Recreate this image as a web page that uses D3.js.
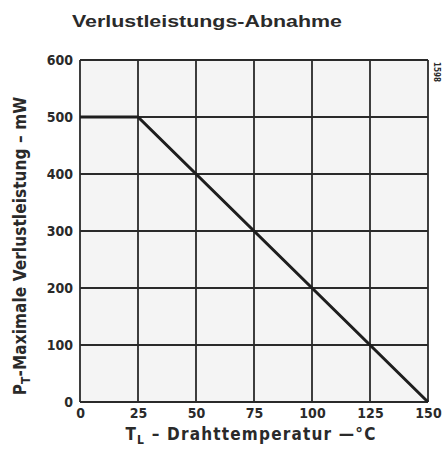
<!DOCTYPE html>
<html><head><meta charset="utf-8">
<script src="https://cdn.jsdelivr.net/npm/d3@7"></script>
<style>
body{margin:0;background:#fff;}
svg{display:block;}
</style></head>
<body><div id="chart"></div>
<script>
const temps = [0, 25, 150];
const power = [500, 500, 0];
const xTicks = [0, 25, 50, 75, 100, 125, 150];
const yTicks = [0, 100, 200, 300, 400, 500, 600];
const title = "Verlustleistungs-Abnahme";

const W = 445, H = 453;
const svg = d3.select("#chart").append("svg").attr("width", W).attr("height", H);
const x = d3.scaleLinear().domain([0,150]).range([80,428]);
const y = d3.scaleLinear().domain([0,600]).range([402,60]);
const ink = "#2a2a2a";
const font = "'DejaVu Sans Condensed','Liberation Sans Narrow',sans-serif";

svg.append("rect").attr("x",x(0)).attr("y",y(600)).attr("width",x(150)-x(0)).attr("height",y(0)-y(600)).attr("fill","#f4f4f4");

// grid
svg.append("g").selectAll("line.v").data(xTicks).join("line")
  .attr("x1",d=>x(d)).attr("x2",d=>x(d)).attr("y1",y(600)).attr("y2",y(0))
  .attr("stroke",ink).attr("stroke-width",1.8);
svg.append("g").selectAll("line.h").data(yTicks).join("line")
  .attr("y1",d=>y(d)).attr("y2",d=>y(d)).attr("x1",x(0)).attr("x2",x(150))
  .attr("stroke",ink).attr("stroke-width",1.8);

// axes labels via d3 axes
const xa = svg.append("g").attr("transform",`translate(0,${y(0)})`)
  .call(d3.axisBottom(x).tickValues(xTicks).tickSize(0).tickPadding(6));
xa.select(".domain").remove();
xa.selectAll("text").attr("font-family",font).attr("font-size",14).attr("fill",ink).attr("font-weight","bold");
const ya = svg.append("g").attr("transform",`translate(${x(0)},0)`)
  .call(d3.axisLeft(y).tickValues(yTicks).tickSize(0).tickPadding(7));
ya.select(".domain").remove();
ya.selectAll("text").attr("font-family",font).attr("font-size",14).attr("fill",ink).attr("font-weight","bold");

// curve
const pts = temps.map((t,i)=>[t,power[i]]);
svg.append("path").datum(pts)
  .attr("d", d3.line().x(d=>x(d[0])).y(d=>y(d[1])))
  .attr("fill","none").attr("stroke","#1e1e1e").attr("stroke-width",3);

// title
svg.append("text").attr("x",72).attr("y",27).text(title)
  .attr("font-family","'Liberation Sans','Arial',sans-serif").attr("font-weight","bold")
  .attr("font-size",17).attr("fill",ink).attr("textLength",270).attr("lengthAdjust","spacingAndGlyphs");

// x label
const xl = svg.append("text").attr("x",251).attr("y",440).attr("text-anchor","middle")
  .attr("font-family",font).attr("font-size",17).attr("fill",ink).attr("font-weight","bold")
  .attr("letter-spacing",1.2);
xl.append("tspan").text("T");
xl.append("tspan").text("L").attr("font-size",12).attr("dy",4);
xl.append("tspan").text(" \u2013 Drahttemperatur \u2014\u00b0C").attr("dy",-4);

// y label
const yl = svg.append("text").attr("transform","translate(26,246) rotate(-90)").attr("text-anchor","middle")
  .attr("font-family",font).attr("font-size",17).attr("fill",ink).attr("font-weight","bold")
  .attr("letter-spacing",0.1);
yl.append("tspan").text("P");
yl.append("tspan").text("T").attr("font-size",12).attr("dy",4);
yl.append("tspan").text("-Maximale  Verlustleistung \u2013 mW").attr("dy",-4);

// code
svg.append("text").attr("transform","translate(434,72) rotate(90)").attr("text-anchor","middle")
  .attr("font-family",font).attr("font-size",8).attr("fill",ink).attr("font-weight","bold").text("1598");
</script></body></html>
